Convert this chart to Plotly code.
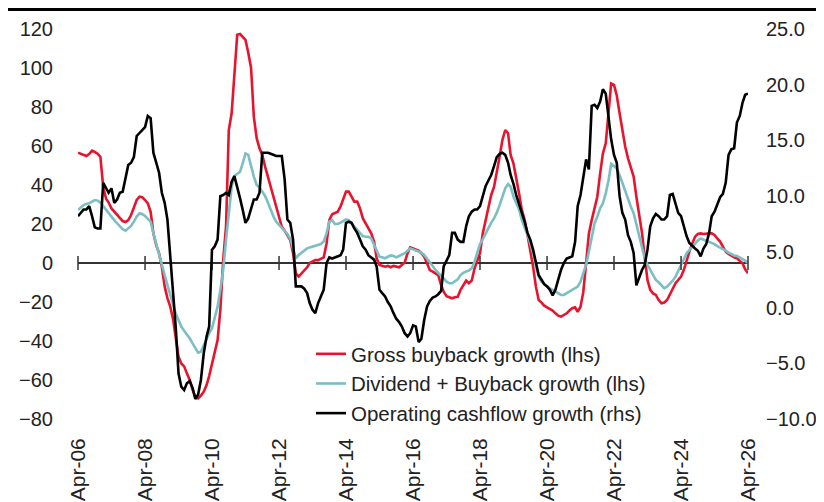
import pandas as pd
import plotly.graph_objects as go

dates = pd.date_range("2006-04-01", "2026-04-01", freq="MS")

gross_buyback = [
    56.6, 56, 55.4, 54.9, 55.9, 57.6, 57, 56, 54.5,
    39, 33, 31, 28, 26.3, 24.6, 23, 21.5, 21, 22, 24.6,
    28, 32.3, 34, 33.7, 32.3, 30.6, 26.3, 15.2, 9.2, 5,
    -1.9, -12, -18, -22.4, -29, -37.8, -48, -51.5, -53, -56.6,
    -60, -65, -68.6, -69.4, -68, -66, -62.6, -58, -51.5, -44.6,
    -39.5, -24, 1.5, 18.6, 68, 76.8, 99, 117, 117.4, 115.7,
    114.4, 108, 100, 75, 64, 58.8, 55.4, 49.4, 44.3, 38.3,
    34, 28, 23, 18.6, 16.6, 14.4, 11.8, 5, -5.3, -7,
    -5.3, -3.6, -2.2, 0, 0.9, 1.5, 1.5, 2.2, 2.9, 10,
    22, 25, 25.8, 26.3, 29, 32.3, 36.6, 36.6, 34, 31.5,
    31.5, 28, 23, 20.3, 17.8, 15.2, 11, 2.4, -1, -1.5,
    -1.9, -1.5, -2.2, -1.5, -1.9, -2.2, -1, 0.2, 5, 8,
    7.5, 6.7, 6.3, 5, 3.2, -0.2, -3.6, -4.4, -5.3, -6.2,
    -11.3, -14.7, -17, -17.6, -18.1, -17.6, -17.3, -13.8, -11.3, -9,
    -10.4, -9, -2.7, 0.7, 5, 15.2, 22, 28, 34.9, 39,
    46, 54.5, 63, 68.2, 66.5, 55.4, 51, 44.3, 35.7, 27.2,
    22, 14.4, 6.7, -1.9, -12, -19, -20.3, -21.9, -22.7, -23.4,
    -24.4, -25.8, -27, -27.5, -26.7, -25.8, -24.4, -23.2, -22.7, -25,
    -22.4, -15, 0, 15, 22, 28.9, 34, 46, 56.2, 61.4,
    78.5, 92, 91.3, 86, 76.8, 68.2, 59.7, 53.7, 48.5, 44.3,
    34, 25.5, 15.2, 3.2, -8.7, -13.8, -15.6, -16.4, -19, -20.7,
    -20.3, -19, -16.4, -13, -10.4, -8.7, -7, -3.6, 1.5, 5.8,
    10, 13.5, 14.9, 15.2, 14.9, 15.2, 15.2, 15.2, 14.4, 12.6,
    11, 8.4, 5.8, 4.6, 3.6, 2.9, 2.4, 1.2, -0.2, -3.2, -5.3,
]

div_buyback = [
    27.2, 28.5, 29.7, 30.3, 30.6, 31.5, 32.3, 32, 31, 29.2,
    27.5, 25.8, 23.8, 22, 20.3, 18.6, 17.3, 16.6, 17.8, 19,
    21.2, 23.8, 25.5, 25.1, 24.1, 22.9, 21.2, 15.2, 9.7, 3.2,
    -1.9, -6.2, -11.3, -16.4, -21.5, -25.8, -29.2, -32.6, -34.7, -36.4,
    -38.6, -41.2, -43.8, -46, -45.5, -42, -38.6, -36, -33.5, -28.4,
    -22.4, -13.8, -3.6, 11.8, 27.2, 39, 44.6, 45.6, 46.8, 51,
    56.2, 55.4, 49.4, 44.3, 40, 38.8, 36.6, 34.4, 31, 27.2,
    23.8, 21.2, 19.5, 17.8, 16.6, 14.9, 12.6, 7.5, 2.4, 4.1,
    5.3, 6.7, 7.5, 8, 8.4, 8.7, 9.2, 9.7, 11, 15.2,
    21.2, 22, 20, 20, 20.7, 21.7, 22.4, 22, 20.3, 18.6,
    16.6, 14.9, 13.8, 13.5, 13.5, 12.6, 9.2, 5.8, 3.2, 2.9,
    2.4, 3.2, 3.9, 3.6, 2.9, 3.6, 4.3, 5, 6.3, 7.5,
    7, 6.3, 5.8, 5.3, 4.1, 2.4, 0.7, -1.5, -3.6, -5,
    -6.2, -7.9, -9.6, -10.4, -10.4, -9.6, -8.4, -6.2, -5, -4.4,
    -3.9, -2.7, 0.7, 5, 9.7, 12.1, 15.2, 17.8, 20.7, 22.9,
    25.8, 29.7, 34, 38.3, 40.5, 39.1, 34, 30.6, 27.5, 22,
    18.6, 14.4, 10.1, 5, -1.7, -7, -9.6, -10.8, -12.1, -13,
    -13.8, -14.7, -15.6, -16.4, -16.4, -15.6, -14.7, -13.8, -13, -12.1,
    -9.6, -5.3, -0.9, 5.8, 13, 20.3, 23.8, 28, 30.6, 35.7,
    42.6, 50.8, 49.7, 48.5, 45.1, 40.9, 37.4, 33.2, 28.9, 25.5,
    19.5, 13.8, 8.4, 2.6, -0.9, -3.4, -6, -8.7, -9.9, -11.3,
    -13, -12.1, -10.8, -9.1, -7, -4.4, -1, 1.9, 5, 6.7,
    8.4, 10.4, 11.5, 12.6, 12.1, 11.5, 10.9, 10.4, 9.7, 8.7,
    8, 7, 6.3, 5.3, 4.4, 3.9, 3.6, 2.9, 2.2, 1.2, 0,
]

op_cashflow = [
    8.2, 8.5, 8.8, 8.8, 9.1, 8.2, 7.2, 7.1, 7.1, 11.2,
    10.7, 10.3, 10.7, 9.4, 9.7, 10.3, 10.4, 11.8, 12.8, 13,
    13.5, 15.4, 15.7, 16, 16.2, 17.2, 17, 13.9, 13, 12.1,
    10.3, 9.4, 7.9, 4.6, 0.7, -1.7, -5.9, -7.1, -7.4, -6.8,
    -6.6, -7.2, -8.2, -7.8, -6.5, -4.1, -2.6, -1.7, 5.2, 5.5,
    6.1, 10, 10.1, 10.3, 10.1, 11.3, 11.8, 10.9, 9.8, 8.8,
    7.6, 8, 8.9, 9.7, 9.7, 10.3, 13.9, 13.9, 13.9, 13.8,
    13.7, 13.6, 13.6, 13.6, 11.5, 7.9, 7.6, 6.1, 1.9, 1.9,
    1.9, 1.7, 1.3, 0.4, -0.2, -0.5, 0.4, 1, 1.6, 4,
    4.5, 4.4, 4.5, 4.6, 4.7, 5.2, 7.6, 7.7, 7.6, 7.1,
    6.7, 6.1, 5.5, 5.2, 4.7, 4.5, 4.3, 3.7, 1.6, 1.3,
    1, 0.5, 0.1, -0.5, -1, -1.3, -1.7, -2.3, -2.6, -2.3,
    -1.6, -1.7, -3.1, -2.8, -1.1, 0.1, 0.6, 0.9, 1, 1.2,
    1.5, 3.7, 4.2, 4.7, 6.7, 6.7, 6.1, 5.9, 5.9, 7.3,
    8.2, 8.6, 8.8, 8.8, 9.1, 10, 10.9, 11.4, 11.9, 12.7,
    13.5, 13.8, 13.9, 13.7, 13, 11.9, 11.1, 10.1, 9.3, 8.6,
    7.7, 6.7, 6.1, 5.2, 4, 2.9, 2.5, 2.1, 1.9, 1.6,
    1.1, 1.6, 2.5, 3.4, 4, 4.4, 4.5, 4.6, 5.9, 9.1,
    10.1, 11.5, 13.3, 12.4, 18.1, 18.2, 17.9, 18.5, 19.6, 19.2,
    17.2, 15.1, 13.7, 13, 10, 8.5, 7.9, 6.5, 5.9, 4.9,
    2, 2.8, 3.4, 3.8, 5.2, 7.3, 8, 8.4, 8.2, 7.9,
    7.9, 8.2, 10.1, 10.2, 9.2, 8.5, 8.2, 7.3, 6.4, 5.8,
    5.5, 5.3, 5.1, 4.6, 5.3, 5.7, 6.7, 8.2, 8.6, 9.2,
    9.9, 10.2, 11.2, 13.7, 14.2, 14.3, 16.6, 17.2, 18.4, 19.1, 19.2,
]

tick_dates = [f"{y}-04-01" for y in range(2006, 2027, 2)]
tick_labels = [f"Apr-{y % 100:02d}" for y in range(2006, 2027, 2)]
left_ticks = list(range(-80, 121, 20))
right_ticks = list(range(-10, 26, 5))

FONT = "Liberation Sans, Arial, sans-serif"
TXT = "#222222"

# The page body has an 8px margin, so the figure is 816x494 and
# positions below are in figure pixels (page pixels minus 8).
W, H = 816, 494
L, R, T, B = 70, 76, 21, 83
PW, PH = W - L - R, H - T - B

fig = go.Figure()
fig.add_trace(go.Scatter(x=dates, y=gross_buyback, mode="lines",
                         name="Gross buyback growth (lhs)",
                         line=dict(color="#E8142D", width=2.6)))
fig.add_trace(go.Scatter(x=dates, y=div_buyback, mode="lines",
                         name="Dividend + Buyback growth (lhs)",
                         line=dict(color="#7BBEC4", width=2.6)))
fig.add_trace(go.Scatter(x=dates, y=op_cashflow, mode="lines",
                         name="Operating cashflow growth (rhs)", yaxis="y2",
                         line=dict(color="#000000", width=2.6)))
# tick marks on the zero line
fig.add_trace(go.Scatter(x=tick_dates, y=[0] * len(tick_dates), mode="markers",
                         showlegend=False, hoverinfo="skip", cliponaxis=False,
                         marker=dict(symbol="line-ns", size=10,
                                     line=dict(color="#333333", width=1.5))))

fig.update_layout(
    width=W, height=H,
    margin=dict(l=L, r=R, t=T, b=B, autoexpand=False),
    paper_bgcolor="white", plot_bgcolor="white",
    font=dict(family=FONT, color=TXT, size=20),
    showlegend=True,
    legend=dict(x=(303 - L) / PW, xanchor="left",
                y=(H - B - 326) / PH, yanchor="top",
                bgcolor="rgba(0,0,0,0)", font=dict(size=20.5, color=TXT),
                tracegroupgap=0),
    xaxis=dict(type="date", range=["2006-04-01", "2026-04-01"],
               tickvals=tick_dates, ticktext=tick_labels, tickangle=-90,
               showgrid=False, showline=False, zeroline=False, ticks="",
               automargin=False,
               tickfont=dict(size=21), ticklabelstandoff=14),
    yaxis=dict(range=[-80, 120], tickvals=left_ticks, showgrid=False,
               showline=False, ticks="", zeroline=True, zerolinecolor="#333333",
               zerolinewidth=1.5, automargin=False,
               tickfont=dict(size=20), ticklabelstandoff=24),
    yaxis2=dict(range=[-10, 25], tickvals=right_ticks, tickformat=".1f",
                overlaying="y", side="right", showgrid=False, showline=False,
                ticks="", zeroline=False, automargin=False,
                tickfont=dict(size=20), ticklabelstandoff=17),
    shapes=[dict(type="line", xref="paper", yref="paper",
                 x0=(0 - L) / PW, x1=(W - L) / PW,
                 y0=(H - B - 1) / PH, y1=(H - B - 1) / PH,
                 line=dict(color="black", width=4))],
)

fig.write_html("out.html")
